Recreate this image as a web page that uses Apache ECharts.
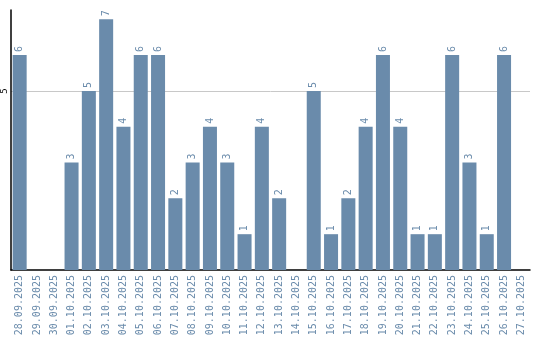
<!DOCTYPE html>
<html>
<head>
<meta charset="utf-8">
<script src="https://cdn.jsdelivr.net/npm/echarts@6/dist/echarts.min.js"></script>
<style>
  html, body { margin: 0; padding: 0; background: #fff; }
  #chart { width: 540px; height: 340px; }
</style>
</head>
<body>
<div id="chart"></div>
<script>
const dates = [
  "28.09.2025", "29.09.2025", "30.09.2025", "01.10.2025", "02.10.2025",
  "03.10.2025", "04.10.2025", "05.10.2025", "06.10.2025", "07.10.2025",
  "08.10.2025", "09.10.2025", "10.10.2025", "11.10.2025", "12.10.2025",
  "13.10.2025", "14.10.2025", "15.10.2025", "16.10.2025", "17.10.2025",
  "18.10.2025", "19.10.2025", "20.10.2025", "21.10.2025", "22.10.2025",
  "23.10.2025", "24.10.2025", "25.10.2025", "26.10.2025", "27.10.2025"
];
const counts = [6, 0, 0, 3, 5, 7, 4, 6, 6, 2, 3, 4, 3, 1, 4, 2, 0, 5, 1, 2, 4, 6, 4, 1, 1, 6, 3, 1, 6, 0];

let myChart = echarts.init(document.getElementById("chart"));
let option = {
  animation: false,
  grid: { left: 10, right: 10, top: 10, bottom: 70 },
  xAxis: {
    type: "category",
    data: dates,
    axisTick: { show: false },
    axisLine: { lineStyle: { color: "#000", width: 1.5 } },
    axisLabel: {
      rotate: 90,
      interval: 0,
      margin: 5,
      color: "#6a8bab",
      fontFamily: "DejaVu Sans Mono",
      fontSize: 10
    }
  },
  yAxis: {
    type: "value",
    min: 0,
    max: 7.26,
    interval: 5,
    axisLine: { show: true, lineStyle: { color: "#000", width: 1.5 } },
    axisTick: { show: false },
    splitLine: { showMinLine: false, showMaxLine: false, lineStyle: { color: "#c8c8c8" } },
    axisLabel: {
      showMinLabel: false,
      showMaxLabel: false,
      rotate: 90,
      margin: 2,
      color: "#000",
      fontFamily: "DejaVu Sans Mono",
      fontSize: 9,
      formatter: v => (v === 5 ? "5" : "")
    }
  },
  series: [
    {
      type: "bar",
      data: counts,
      barCategoryGap: "19%",
      itemStyle: { color: "#6a8bab" },
      label: {
        show: true,
        position: "top",
        rotate: 90,
        align: "left",
        verticalAlign: "middle",
        distance: 3,
        color: "#6a8bab",
        fontFamily: "DejaVu Sans Mono",
        fontSize: 10,
        formatter: p => (p.value > 0 ? String(p.value) : "")
      }
    }
  ]
};
myChart.setOption(option);
</script>
</body>
</html>
